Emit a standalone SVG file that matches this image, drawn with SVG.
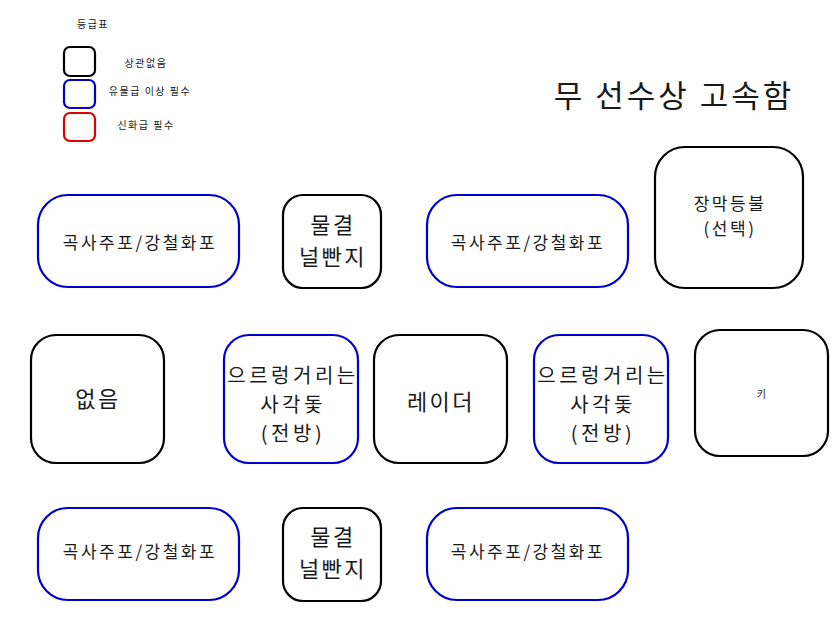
<svg xmlns="http://www.w3.org/2000/svg" width="840" height="630" viewBox="0 0 840 630">
<style>
.n{fill:#fff;stroke-width:2.2}
.k{stroke:#000}
.b{stroke:#0000cc}
.r{stroke:#e00000}
text{font-family:"Noto Sans CJK KR","Noto Sans",sans-serif;fill:#1a1a1a;text-anchor:middle}
.s{font-size:10px;letter-spacing:1.5px}
.m{font-size:17px;letter-spacing:2.5px}
.l{font-size:22px;letter-spacing:2.5px}
.w{font-size:20px;letter-spacing:3.5px}
</style>
<rect width="840" height="630" fill="#fff"/>
<g id="legend">
<text class="s" x="93" y="28">등급표</text>
<rect class="n k" x="64" y="47" width="31" height="29" rx="6" stroke-width="2.5"/>
<rect class="n b" x="64" y="80" width="31" height="28" rx="6" stroke-width="2.5"/>
<rect class="n r" x="64" y="113" width="31" height="28" rx="6" stroke-width="2.5"/>
<text class="s" x="146" y="67">상관없음</text>
<text class="s" x="150" y="95">유물급 이상 필수</text>
<text class="s" x="146" y="129">신화급 필수</text>
</g>
<g id="title"><text x="674" y="107" style="font-size:31px;letter-spacing:3px">무 선수상 고속함</text></g>
<g id="connectors"></g>
<g id="n1"><rect class="n b" x="38" y="195" width="201" height="92" rx="30"/><text class="m" x="140" y="249">곡사주포/강철화포</text></g>
<g id="n2"><rect class="n k" x="283" y="195" width="98" height="93" rx="20"/><text class="l" x="333" y="233">물결</text><text class="l" x="333" y="265">널빤지</text></g>
<g id="n3"><rect class="n b" x="427" y="195" width="201" height="92" rx="30"/><text class="m" x="528" y="249">곡사주포/강철화포</text></g>
<g id="n4"><rect class="n k" x="655" y="147" width="148" height="141" rx="30"/><text class="m" x="730" y="210">장막등불</text><text class="m" x="730" y="235">(선택)</text></g>
<g id="n5"><rect class="n k" x="31" y="335" width="133" height="128" rx="25"/><text class="l" x="98" y="407">없음</text></g>
<g id="n6"><rect class="n b" x="224" y="335" width="134" height="128" rx="25"/><text class="w" x="293" y="383">으르렁거리는</text><text class="w" x="293" y="412">사각돛</text><text class="w" x="293" y="441">(전방)</text></g>
<g id="n7"><rect class="n k" x="374" y="335" width="133" height="128" rx="25"/><text class="l" x="441" y="410">레이더</text></g>
<g id="n8"><rect class="n b" x="534" y="335" width="134" height="128" rx="25"/><text class="w" x="603" y="383">으르렁거리는</text><text class="w" x="603" y="412">사각돛</text><text class="w" x="603" y="441">(전방)</text></g>
<g id="n9"><rect class="n k" x="695" y="330" width="133" height="126" rx="25"/><text class="s" x="762" y="398">키</text></g>
<g id="n10"><rect class="n b" x="38" y="508" width="201" height="92" rx="30"/><text class="m" x="140" y="558">곡사주포/강철화포</text></g>
<g id="n11"><rect class="n k" x="283" y="508" width="98" height="93" rx="20"/><text class="l" x="333" y="545">물결</text><text class="l" x="333" y="577">널빤지</text></g>
<g id="n12"><rect class="n b" x="427" y="508" width="201" height="92" rx="30"/><text class="m" x="528" y="558">곡사주포/강철화포</text></g>
</svg>
